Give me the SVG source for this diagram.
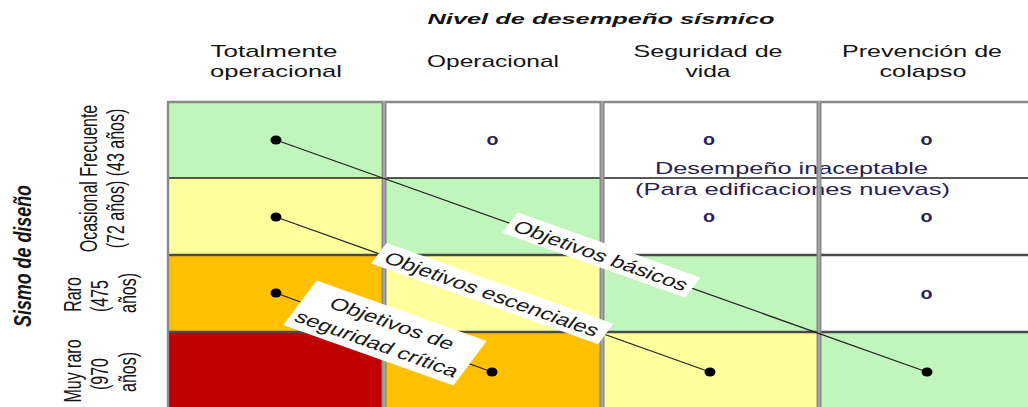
<svg xmlns="http://www.w3.org/2000/svg" width="1028" height="407" viewBox="0 0 1028 407">
<style>
.t{font-family:"Liberation Sans",Arial,sans-serif;font-size:17px;fill:#141414;text-anchor:middle}
.ti{font-family:"Liberation Sans",Arial,sans-serif;font-size:15px;font-weight:bold;font-style:italic;fill:#141414;text-anchor:middle}
.r{font-family:"Liberation Sans",Arial,sans-serif;font-size:16px;fill:#141414;text-anchor:middle}
.rb{font-family:"Liberation Sans",Arial,sans-serif;font-size:16px;font-weight:bold;font-style:italic;fill:#141414;text-anchor:middle}
.o{font-family:"Liberation Sans",Arial,sans-serif;font-size:17px;font-weight:bold;fill:#282250;text-anchor:middle}
.u{font-family:"Liberation Sans",Arial,sans-serif;font-size:17px;fill:#282250;text-anchor:middle}
.g{fill:#c0f5bb}.y{fill:#ffff9e}.or{fill:#ffc000}.rd{fill:#c00000}.w{fill:#ffffff}
.hl{stroke:#222;stroke-width:1.3}
.hl2{stroke:#4a4a4a;stroke-width:2.4}
.sep{fill:#8a8a8a}
.sepc{stroke:#bdbdbd;stroke-width:1}
.edge{stroke:#222;stroke-width:1.3;fill:none}
.dot{fill:#000}
.lbl{font-family:"Liberation Sans",Arial,sans-serif;font-size:17px;fill:#1a1a1a;text-anchor:middle}
</style>

<g id="title">
<text class="ti" x="601" y="24" textLength="347" lengthAdjust="spacingAndGlyphs">Nivel de desempeño sísmico</text>
</g>

<g id="col-headers">
<text class="t" x="274" y="57" textLength="127" lengthAdjust="spacingAndGlyphs">Totalmente</text>
<text class="t" x="276" y="77" textLength="132" lengthAdjust="spacingAndGlyphs">operacional</text>
<text class="t" x="493" y="67" textLength="132" lengthAdjust="spacingAndGlyphs">Operacional</text>
<text class="t" x="708" y="57" textLength="149" lengthAdjust="spacingAndGlyphs">Seguridad de</text>
<text class="t" x="708" y="77" textLength="45" lengthAdjust="spacingAndGlyphs">vida</text>
<text class="t" x="922" y="57" textLength="160" lengthAdjust="spacingAndGlyphs">Prevención de</text>
<text class="t" x="923" y="77" textLength="87" lengthAdjust="spacingAndGlyphs">colapso</text>
</g>

<g id="row-headers">
<text class="rb" transform="translate(31,256) scale(1.45,1) rotate(-90)" textLength="142" lengthAdjust="spacingAndGlyphs">Sismo de diseño</text>
<text class="r" transform="translate(97,178.5) scale(1.48,1) rotate(-90)">Ocasional Frecuente</text>
<text class="r" transform="translate(124,178.5) scale(1.48,1) rotate(-90)">(72 años) (43 años)</text>
<text class="r" transform="translate(81,294.5) scale(1.48,1) rotate(-90)">Raro</text>
<text class="r" transform="translate(108,296) scale(1.48,1) rotate(-90)">(475</text>
<text class="r" transform="translate(136,293) scale(1.48,1) rotate(-90)">años)</text>
<text class="r" transform="translate(81,371) scale(1.48,1) rotate(-90)">Muy raro</text>
<text class="r" transform="translate(108,374) scale(1.48,1) rotate(-90)">(970</text>
<text class="r" transform="translate(136,372) scale(1.48,1) rotate(-90)">años)</text>
</g>

<g id="grid">
<g id="cell-r1c1"><rect class="g" x="168" y="102" width="216" height="76"/></g>
<g id="cell-r1c2"><rect class="w" x="384" y="102" width="218" height="76"/><text class="o" x="492.5" y="145" textLength="12" lengthAdjust="spacingAndGlyphs">o</text></g>
<g id="cell-r1c3"><rect class="w" x="602" y="102" width="217" height="76"/><text class="o" x="709" y="145" textLength="12" lengthAdjust="spacingAndGlyphs">o</text></g>
<g id="cell-r1c4"><rect class="w" x="819" y="102" width="209" height="76"/><text class="o" x="926.5" y="145" textLength="12" lengthAdjust="spacingAndGlyphs">o</text></g>

<g id="cell-r2c1"><rect class="y" x="168" y="178" width="216" height="77"/></g>
<g id="cell-r2c2"><rect class="g" x="384" y="178" width="218" height="77"/></g>
<g id="cell-r2c3"><rect class="w" x="602" y="178" width="217" height="77"/><text class="o" x="709" y="221.5" textLength="12" lengthAdjust="spacingAndGlyphs">o</text></g>
<g id="cell-r2c4"><rect class="w" x="819" y="178" width="209" height="77"/><text class="o" x="926.5" y="221.5" textLength="12" lengthAdjust="spacingAndGlyphs">o</text></g>

<g id="cell-r3c1"><rect class="or" x="168" y="255" width="216" height="77"/></g>
<g id="cell-r3c2"><rect class="y" x="384" y="255" width="218" height="77"/></g>
<g id="cell-r3c3"><rect class="g" x="602" y="255" width="217" height="77"/></g>
<g id="cell-r3c4"><rect class="w" x="819" y="255" width="209" height="77"/><text class="o" x="926.5" y="298.5" textLength="12" lengthAdjust="spacingAndGlyphs">o</text></g>

<g id="cell-r4c1"><rect class="rd" x="168" y="332" width="216" height="75"/></g>
<g id="cell-r4c2"><rect class="or" x="384" y="332" width="218" height="75"/></g>
<g id="cell-r4c3"><rect class="y" x="602" y="332" width="217" height="75"/></g>
<g id="cell-r4c4"><rect class="g" x="819" y="332" width="209" height="75"/></g>

<line class="hl" x1="168" y1="178" x2="1028" y2="178"/>
<line class="hl2" x1="168" y1="255" x2="1028" y2="255"/>
<line class="hl2" x1="168" y1="332" x2="1028" y2="332"/>
<line x1="167" y1="102" x2="1028" y2="102" stroke="#8a8a8a" stroke-width="2.4"/>
<line x1="168" y1="101" x2="168" y2="407" stroke="#8a8a8a" stroke-width="2.4"/>
</g>

<g id="zone-label">
<text class="u" x="791.5" y="174" textLength="273" lengthAdjust="spacingAndGlyphs">Desempeño inaceptable</text>
<text class="u" x="792.5" y="195" textLength="315" lengthAdjust="spacingAndGlyphs">(Para edificaciones nuevas)</text>
</g>

<g id="separators">
<rect class="sep" x="381.5" y="101" width="5" height="306"/>
<line class="sepc" x1="384" y1="101" x2="384" y2="407"/>
<rect class="sep" x="599.5" y="101" width="5" height="306"/>
<line class="sepc" x1="602" y1="101" x2="602" y2="407"/>
<rect class="sep" x="816.5" y="101" width="5" height="306"/>
<line class="sepc" x1="819" y1="101" x2="819" y2="407"/>
</g>

<g id="connectors">
<line class="edge" x1="276" y1="140" x2="927" y2="372"/>
<line class="edge" x1="276" y1="217" x2="710" y2="372"/>
<line class="edge" x1="276" y1="293" x2="492" y2="372"/>

<g id="label-basicos" transform="translate(601,255.5) scale(1.45,1) rotate(27.3)">
<rect x="-71" y="-12" width="142" height="23" fill="#fff"/>
<text class="lbl" x="0" y="6">Objetivos básicos</text>
</g>
<g id="label-escenciales" transform="translate(492,294) scale(1.45,1) rotate(27.3)">
<rect x="-88" y="-12" width="176" height="23" fill="#fff"/>
<text class="lbl" x="0" y="6">Objetivos escenciales</text>
</g>
<g id="label-critica" transform="translate(385,333) scale(1.45,1) rotate(27.3)">
<rect x="-66" y="-25" width="132" height="50" fill="#fff"/>
<text class="lbl" x="0" y="-5">Objetivos de</text>
<text class="lbl" x="0" y="18">seguridad crítica</text>
</g>

<ellipse class="dot" cx="276" cy="140" rx="5.5" ry="4.5"/>
<ellipse class="dot" cx="276" cy="217" rx="5.5" ry="4.5"/>
<ellipse class="dot" cx="276" cy="293" rx="5.5" ry="4.5"/>
<ellipse class="dot" cx="492" cy="372" rx="5.5" ry="4.5"/>
<ellipse class="dot" cx="710" cy="372" rx="5.5" ry="4.5"/>
<ellipse class="dot" cx="927" cy="372" rx="5.5" ry="4.5"/>
</g>
</svg>
